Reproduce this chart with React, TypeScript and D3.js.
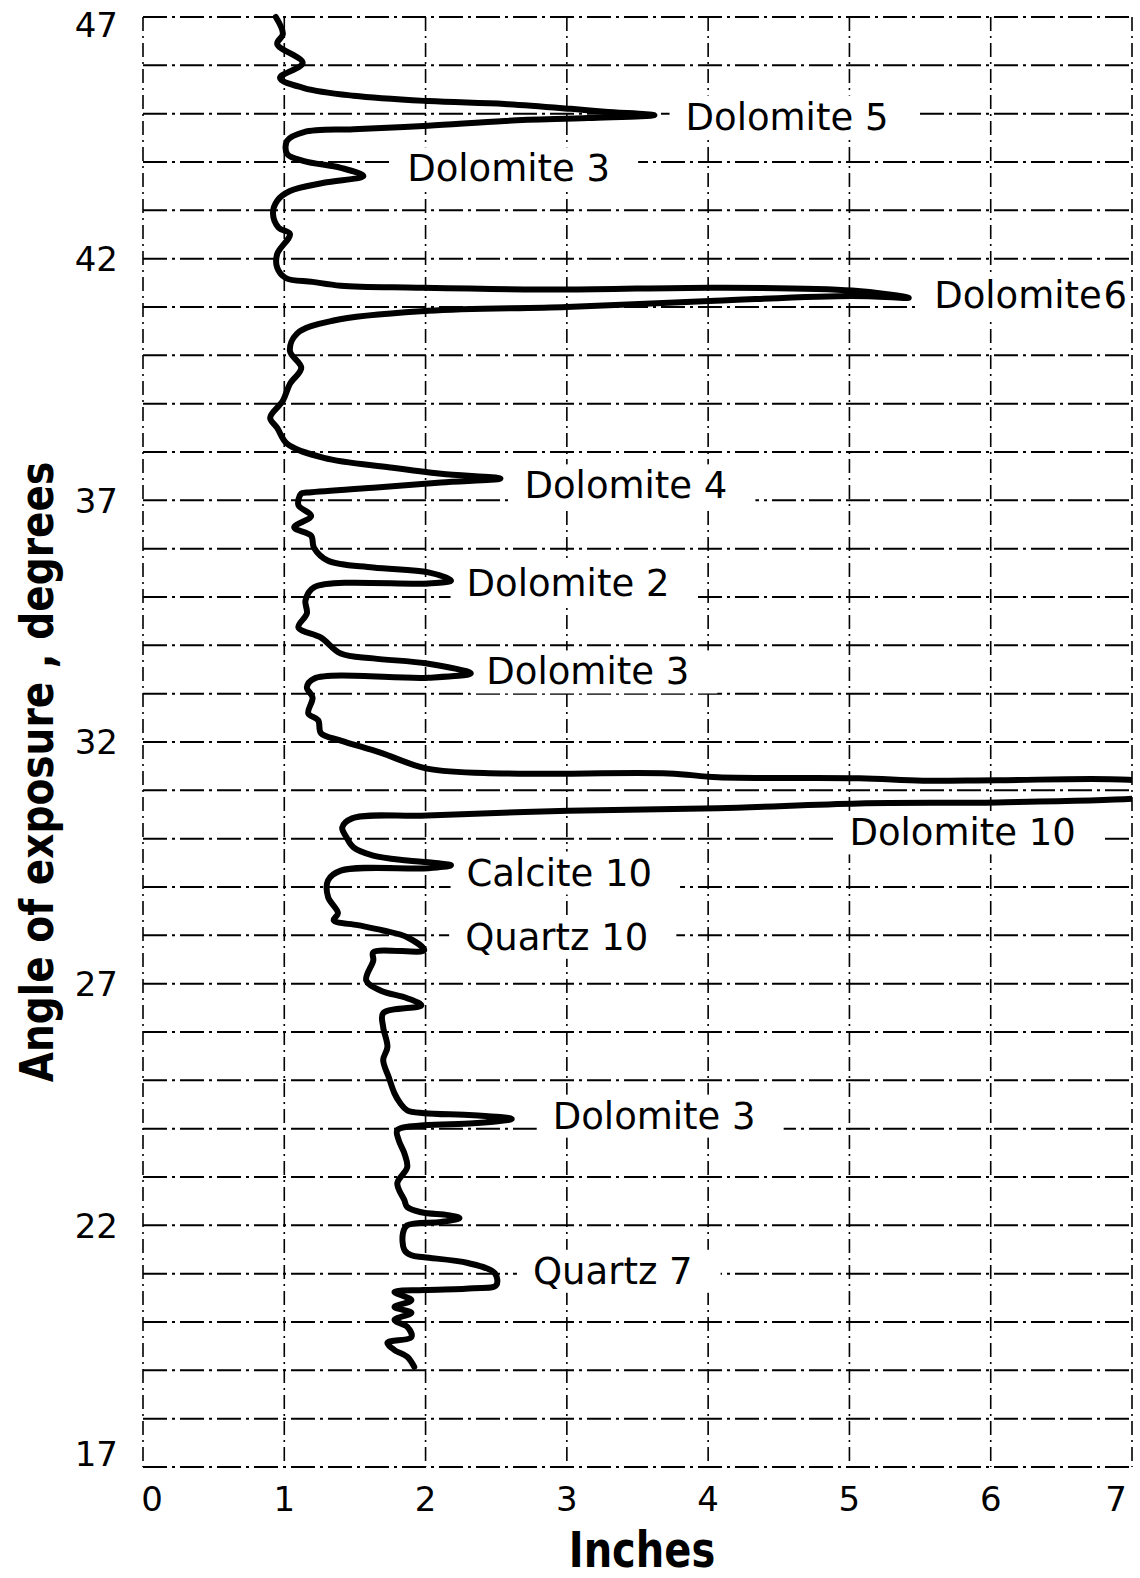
import React, { useEffect, useRef } from 'react';
import * as d3 from 'd3';

// axis ticks
const angleTicks = [47, 42, 37, 32, 27, 22, 17];
const inchTicks = [0, 1, 2, 3, 4, 5, 6, 7];

// diffractometer trace (inches of deflection vs angle)
const traceInches = [
  0.94, 0.99, 0.95, 1.13, 0.97, 1.14, 1.49, 2.02, 2.56, 3.03, 3.27, 3.62, 3.15, 2.56, 2.02, 1.49,
  1.14, 1.02, 1.02, 1.14, 1.40, 1.56, 1.28, 1.04, 0.95, 0.92, 0.96, 1.04, 0.95, 0.95, 1.01, 1.20,
  1.40, 1.94, 2.98, 4.05, 5.02, 5.42, 5.02, 4.05, 3.00, 2.02, 1.35, 1.09, 1.04, 1.12, 1.04, 0.99,
  0.90, 0.95, 1.02, 1.28, 1.75, 2.11, 2.53, 2.11, 1.63, 1.16, 1.12, 1.10, 1.19, 1.07, 1.19, 1.21,
  1.31, 1.63, 2.02, 2.18, 2.02, 1.21, 1.15, 1.16, 1.10, 1.26, 1.40, 1.63, 2.02, 2.32, 2.02, 1.21,
  1.16, 1.20, 1.17, 1.24, 1.26, 1.40, 1.68, 2.01, 2.54, 3.72, 4.07, 5.07, 5.52, 6.05, 7.01, 7.20,
  7.20, 7.03, 6.05, 5.07, 4.07, 3.01, 2.01, 1.48, 1.41, 1.44, 1.49, 1.63, 1.87, 2.02, 2.18, 2.02,
  1.40, 1.31, 1.31, 1.38, 1.35, 1.52, 1.70, 1.87, 1.99, 1.63, 1.63, 1.58, 1.68, 1.87, 1.97, 1.70,
  1.70, 1.73, 1.70, 1.74, 1.78, 1.82, 1.87, 1.99, 2.34, 2.61, 2.34, 1.99, 1.80, 1.81, 1.85, 1.87,
  1.80, 1.85, 1.87, 1.97, 2.16, 2.24, 2.11, 1.87, 1.84, 1.85, 1.90, 1.99, 2.30, 2.49, 2.50, 2.34,
  1.99, 1.78, 1.90, 1.78, 1.90, 1.78, 1.87, 1.90, 1.73, 1.78, 1.87, 1.92,
];
const traceAngle = [
  47.00, 46.65, 46.44, 46.05, 45.74, 45.53, 45.37, 45.26, 45.20, 45.10, 45.04, 44.97, 44.91, 44.85, 44.75, 44.68,
  44.62, 44.44, 44.17, 44.02, 43.88, 43.71, 43.57, 43.40, 43.20, 42.93, 42.64, 42.51, 42.10, 41.81, 41.60, 41.52,
  41.44, 41.40, 41.36, 41.40, 41.34, 41.19, 41.23, 41.13, 41.00, 40.92, 40.72, 40.45, 40.09, 39.74, 39.41, 39.06,
  38.71, 38.50, 38.17, 37.88, 37.68, 37.55, 37.45, 37.37, 37.26, 37.16, 37.14, 36.90, 36.68, 36.44, 36.27, 36.02,
  35.75, 35.61, 35.51, 35.34, 35.28, 35.20, 34.93, 34.66, 34.37, 34.16, 33.83, 33.73, 33.62, 33.42, 33.33, 33.31,
  33.13, 32.92, 32.59, 32.45, 32.18, 32.03, 31.78, 31.45, 31.35, 31.35, 31.27, 31.25, 31.20, 31.21, 31.21, 31.10,
  30.90, 30.83, 30.75, 30.73, 30.63, 30.58, 30.48, 30.42, 30.23, 30.03, 29.82, 29.65, 29.55, 29.51, 29.45, 29.39,
  29.34, 29.14, 28.79, 28.46, 28.31, 28.21, 28.10, 27.96, 27.69, 27.65, 27.48, 27.07, 26.86, 26.70, 26.55, 26.39,
  26.10, 25.69, 25.42, 25.06, 24.73, 24.53, 24.38, 24.32, 24.28, 24.20, 24.11, 24.07, 23.97, 23.76, 23.49, 23.20,
  22.87, 22.52, 22.38, 22.27, 22.21, 22.15, 22.07, 22.00, 21.84, 21.49, 21.38, 21.34, 21.22, 21.01, 20.76, 20.70,
  20.66, 20.62, 20.45, 20.31, 20.19, 20.04, 19.90, 19.69, 19.57, 19.42, 19.28, 19.07,
];

// peak identifications (left edge of text, vertical centre)
const labelText = [
  'Dolomite 5', 'Dolomite 3', 'Dolomite 6', 'Dolomite 4', 'Dolomite 2', 'Dolomite 3',
  'Dolomite 10', 'Calcite 10', 'Quartz 10', 'Dolomite 3', 'Quartz 7',
];
const labelInches = [3.84, 1.87, 5.60, 2.70, 2.29, 2.43, 5.00, 2.29, 2.28, 2.90, 2.76];
const labelAngle = [44.95, 43.88, 41.25, 37.32, 35.31, 33.47, 30.14, 29.31, 27.98, 24.28, 21.07];

const width = 1140;
const height = 1578;
const plot = { left: 143, right: 1132, top: 17, bottom: 1467 };
const font = "'DejaVu Sans', 'Noto Sans', sans-serif";

const App: React.FC = () => {
  const svgRef = useRef<SVGSVGElement>(null);

  useEffect(() => {
    if (!svgRef.current) return;
    const svg = d3.select(svgRef.current);
    svg.selectAll('*').remove();

    const x = d3.scaleLinear().domain([0, 7]).range([plot.left, plot.right]);
    const y = d3.scaleLinear().domain([17, 47]).range([plot.bottom, plot.top]);

    svg.append('rect').attr('width', width).attr('height', height).attr('fill', '#fff');

    // dash-dot grid, one line per degree and per inch
    const grid = svg.append('g').attr('stroke', '#000').attr('fill', 'none');
    grid.selectAll('line.h')
      .data(d3.range(17, 48))
      .join('line')
      .attr('class', 'h')
      .attr('x1', x(0)).attr('x2', x(7))
      .attr('y1', d => y(d)).attr('y2', d => y(d))
      .attr('stroke-width', 2)
      .attr('stroke-dasharray', '24 5 3 5');
    grid.selectAll('line.v')
      .data(inchTicks)
      .join('line')
      .attr('class', 'v')
      .attr('x1', d => x(d)).attr('x2', d => x(d))
      .attr('y1', y(47)).attr('y2', y(17))
      .attr('stroke-width', 1.6)
      .attr('stroke-dasharray', '14 5 2 5');

    const masks = svg.append('g');
    const curveG = svg.append('g');
    const textG = svg.append('g').attr('font-family', font).attr('fill', '#000');

    // trace
    svg.append('clipPath').attr('id', 'plot-clip')
      .append('rect')
      .attr('x', plot.left).attr('y', plot.top - 4)
      .attr('width', plot.right - plot.left).attr('height', plot.bottom - plot.top + 8);

    const pts: [number, number][] = traceInches.map((v, i) => [v, traceAngle[i]]);
    const line = d3.line<[number, number]>()
      .x(d => x(d[0]))
      .y(d => y(d[1]))
      .curve(d3.curveCatmullRom.alpha(0.5));
    curveG.append('path')
      .datum(pts)
      .attr('d', line)
      .attr('clip-path', 'url(#plot-clip)')
      .attr('fill', 'none')
      .attr('stroke', '#000')
      .attr('stroke-width', 6)
      .attr('stroke-linejoin', 'round')
      .attr('stroke-linecap', 'round');

    // peak labels, with the grid knocked out behind them
    const fs = 37;
    labelText.forEach((t, i) => {
      const tx = textG.append('text')
        .attr('x', x(labelInches[i]))
        .attr('y', y(labelAngle[i]) + 0.365 * fs)
        .attr('font-size', fs)
        .attr('word-spacing', t === 'Dolomite 6' ? -10 : 0)
        .text(t);
      const bb = (tx.node() as SVGTextElement).getBBox();
      const x0 = bb.x - 16;
      const x1 = Math.min(bb.x + bb.width + 28, plot.right - 2);
      masks.append('rect')
        .attr('x', x0).attr('y', bb.y)
        .attr('width', x1 - x0).attr('height', bb.height)
        .attr('fill', '#fff');
    });

    // tick labels
    const tfs = 34;
    textG.selectAll('text.ya')
      .data(angleTicks)
      .join('text')
      .attr('class', 'ya')
      .attr('x', 118)
      .attr('y', d => Math.min(Math.max(y(d), 25), 1454) + 0.365 * tfs)
      .attr('text-anchor', 'end')
      .attr('font-size', tfs)
      .text(d => d);
    textG.selectAll('text.xa')
      .data(inchTicks)
      .join('text')
      .attr('class', 'xa')
      .attr('x', d => Math.min(Math.max(x(d), 152), 1116))
      .attr('y', 1499 + 0.365 * tfs)
      .attr('text-anchor', 'middle')
      .attr('font-size', tfs)
      .text(d => d);

    // axis titles
    textG.append('text')
      .attr('transform', 'translate(642,1567) scale(0.8,1)')
      .attr('text-anchor', 'middle')
      .attr('font-size', 50)
      .attr('font-weight', 'bold')
      .text('Inches');
    textG.append('text')
      .attr('transform', 'translate(53,772) rotate(-90) scale(0.85,1)')
      .attr('text-anchor', 'middle')
      .attr('font-size', 46)
      .attr('font-weight', 'bold')
      .text('Angle of exposure , degrees');
  }, []);

  return (
    <svg
      ref={svgRef}
      width={width}
      height={height}
      style={{ position: 'absolute', left: 0, top: 0, display: 'block' }}
    />
  );
};

export default App;
